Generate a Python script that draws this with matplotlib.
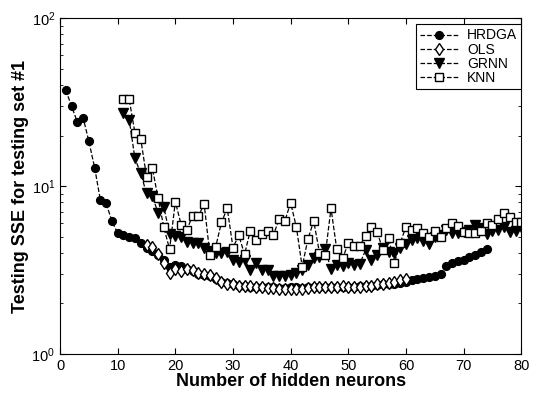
import numpy as np
import matplotlib
matplotlib.use("Agg")
import matplotlib.pyplot as plt

plt.rcParams['font.family'] = ['Liberation Sans', 'DejaVu Sans']

# neurons
x_hrdga = np.arange(1, 75)
x_ols = np.arange(15, 61)
x_grnn = np.arange(11, 81)
x_knn = np.arange(11, 81)

hrdga = [37.3, 29.9, 24.1, 25.6, 18.5, 12.9, 8.26, 7.89, 6.19, 5.23,
         5.1, 5.0, 4.88, 4.6, 4.3, 4.1, 3.9, 3.65, 3.3, 3.4,
         3.35, 3.2, 3.1, 3.0, 2.95, 2.9, 2.8, 2.7, 2.65, 2.6,
         2.55, 2.55, 2.5, 2.5, 2.5, 2.5, 2.5, 2.48, 2.48, 2.5,
         2.5, 2.48, 2.5, 2.5, 2.52, 2.52, 2.5, 2.5, 2.52, 2.5,
         2.52, 2.55, 2.55, 2.55, 2.58, 2.6, 2.6, 2.62, 2.65, 2.7,
         2.75, 2.78, 2.82, 2.86, 2.91, 3.0, 3.35, 3.5, 3.6, 3.65,
         3.8, 3.9, 4.05, 4.2]

ols = [4.45, 4.35, 3.95, 3.5, 3.05, 3.2, 3.1, 3.2, 3.15, 3.05,
       3.0, 2.95, 2.85, 2.7, 2.6, 2.6, 2.55, 2.55, 2.55, 2.5,
       2.5, 2.48, 2.48, 2.45, 2.45, 2.45, 2.45, 2.45, 2.48, 2.5,
       2.5, 2.52, 2.52, 2.52, 2.55, 2.5, 2.5, 2.52, 2.55, 2.55,
       2.6, 2.6, 2.65, 2.7, 2.75, 2.8]

grnn = [27.2, 24.8, 14.6, 11.9, 9.05, 8.7, 6.95, 7.5, 5.2, 5.05,
        5.0, 4.66, 4.6, 4.6, 4.3, 4.1, 4.0, 3.97, 4.06, 3.63,
        3.54, 3.63, 3.16, 3.5, 3.16, 3.16, 2.91, 2.91, 2.91, 2.95,
        3.02, 3.16, 3.39, 3.71, 3.79, 4.2, 3.2, 3.39, 3.35, 3.49,
        3.39, 3.45, 4.16, 3.63, 3.88, 4.25, 4.06, 4.0, 4.3, 4.51,
        4.77, 4.9, 4.7, 4.55, 4.99, 5.1, 5.45, 5.27, 5.23, 5.3,
        5.5, 5.85, 5.6, 5.2, 5.4, 5.5, 5.73, 5.35, 5.4, 5.73]

knn = [32.8, 32.8, 20.7, 19.1, 11.4, 12.9, 8.5, 5.7, 4.2, 8.07,
       5.9, 5.5, 6.65, 6.65, 7.8, 3.9, 4.35, 6.08, 7.37, 4.3,
       5.1, 3.92, 5.42, 4.77, 5.18, 5.42, 5.1, 6.34, 6.22, 7.95,
       5.68, 3.31, 4.84, 6.19, 4.01, 3.9, 7.37, 4.2, 3.71, 4.56,
       4.41, 4.41, 5.07, 5.73, 5.35, 4.16, 4.88, 3.48, 4.6, 5.7,
       5.47, 5.6, 5.27, 5.0, 5.42, 5.0, 5.6, 6.05, 5.78, 5.35,
       5.27, 5.27, 5.4, 6.0, 5.85, 6.33, 6.88, 6.5, 6.1, 6.13]

fig = plt.figure(figsize=(5.33, 3.95), dpi=100)
ax = fig.add_axes([0.1126, 0.1038, 0.8654, 0.8502])

ms = 5.6
ax.plot(x_hrdga, hrdga, 'k--', marker='o', mfc='k', mec='k', ms=ms, lw=0.9, label='HRDGA')
ax.plot(x_ols, ols, 'k--', marker='d', mfc='w', mec='k', ms=ms + 0.4, lw=0.9, label='OLS')
ax.plot(x_grnn, grnn, 'k--', marker='v', mfc='k', mec='k', ms=ms + 1, lw=0.9, label='GRNN')
ax.plot(x_knn, knn, 'k--', marker='s', mfc='w', mec='k', ms=ms, lw=0.9, label='KNN')

ax.set_yscale('log')
ax.set_xlim(0, 80)
ax.set_ylim(1, 100)
ax.set_xticks(range(0, 81, 10))
ax.tick_params(which='both', direction='in', top=True, right=True, labelsize=10.5)
ax.tick_params(which='major', length=4)
ax.tick_params(which='minor', length=2)

ax.set_xlabel('Number of hidden neurons', fontsize=13, fontweight='bold', labelpad=0)
ax.set_ylabel('Testing SSE for testing set #1', fontsize=13, fontweight='bold', labelpad=2)

leg = ax.legend(loc='upper right', bbox_to_anchor=(1.0, 0.982), fontsize=10,
                fancybox=False, edgecolor='k', framealpha=1, handlelength=2.8,
                borderpad=0.3, labelspacing=0.02, handletextpad=0.6, borderaxespad=0)
leg.get_frame().set_linewidth(0.8)

fig.savefig('out.png', dpi=100)
